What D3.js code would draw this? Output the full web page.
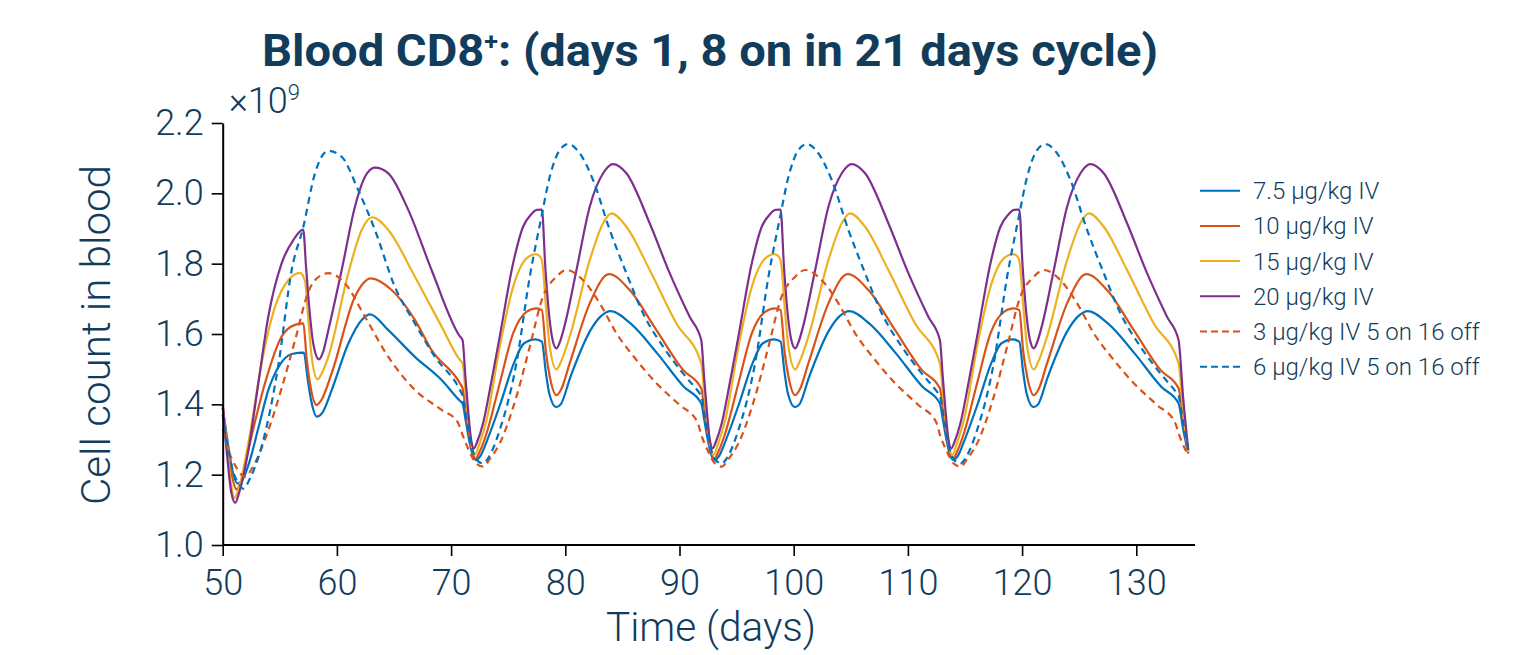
<!DOCTYPE html>
<html>
<head>
<meta charset="utf-8">
<script src="https://cdn.jsdelivr.net/npm/d3@7"></script>
<style>
  body { margin: 0; background: #fff; }
  svg text { font-family: Roboto, "Liberation Sans", sans-serif; fill: #123c5c; }
</style>
</head>
<body>
<div id="my_dataviz"></div>
<script>
// series names (legend order)
const seriesNames = ["7.5 μg/kg IV", "10 μg/kg IV", "15 μg/kg IV", "20 μg/kg IV",
  "3 μg/kg IV 5 on 16 off", "6 μg/kg IV 5 on 16 off"];

const xTicks = [50, 60, 70, 80, 90, 100, 110, 120, 130];
const yTicks = [1.0, 1.2, 1.4, 1.6, 1.8, 2.0, 2.2];

// [day, cell count x1e9]
const blue75 = [
  [50.0,1.39],[50.4,1.30],[50.8,1.22],[51.3,1.175],[51.8,1.19],[52.3,1.232],[53.15,1.336],[54.0,1.441],[54.9,1.507],[56.05,1.543],[57.1,1.547],[57.45,1.47],[57.75,1.41],[58.25,1.365],[58.7,1.375],[59.55,1.441],[61.0,1.573],[62.17,1.640],[62.9,1.656],[64.5,1.611],[66.83,1.535],[69.17,1.469],[70.77,1.410],
  [71.0,1.403],[71.3,1.35],[71.6,1.295],[71.9,1.255],[72.2,1.242],[72.6,1.255],[73.17,1.299],[74.33,1.403],[75.5,1.517],[76.37,1.573],[77.4,1.585],[77.95,1.578],[78.3,1.49],[78.6,1.43],[79.2,1.392],[79.6,1.40],[80.46,1.479],[82.21,1.611],[83.1,1.65],[83.96,1.665],[85.71,1.630],[88.05,1.545],[90.38,1.450],
  [91.9,1.403],[92.2,1.35],[92.5,1.295],[92.8,1.255],[93.1,1.242],[93.5,1.255],[94.07,1.299],[95.23,1.403],[96.4,1.517],[97.27,1.573],[98.3,1.585],[98.85,1.578],[99.2,1.49],[99.5,1.43],[100.1,1.392],[100.5,1.40],[101.36,1.479],[103.11,1.611],[104.0,1.65],[104.86,1.665],[106.61,1.630],[108.95,1.545],[111.28,1.450],
  [112.8,1.403],[113.1,1.35],[113.4,1.295],[113.7,1.255],[114.0,1.242],[114.4,1.255],[114.97,1.299],[116.13,1.403],[117.3,1.517],[118.17,1.573],[119.2,1.585],[119.75,1.578],[120.1,1.49],[120.4,1.43],[121.0,1.392],[121.4,1.40],[122.26,1.479],[124.01,1.611],[124.9,1.65],[125.76,1.665],[127.51,1.630],[129.85,1.545],[132.18,1.450],
  [133.7,1.403],[134.1,1.33],[134.55,1.26]
];

const orange10 = [
  [50.0,1.39],[50.4,1.29],[50.8,1.20],[51.22,1.158],[51.6,1.18],[52.24,1.27],[53.7,1.46],[55.16,1.593],[56.33,1.626],[57.06,1.630],[57.35,1.53],[57.64,1.46],[58.23,1.398],[58.6,1.41],[59.54,1.488],[61.58,1.706],[62.98,1.758],[64.79,1.725],[66.83,1.640],[68.29,1.554],[70.77,1.46],
  [71.0,1.446],[71.3,1.38],[71.6,1.31],[72.16,1.246],[72.5,1.265],[73.1,1.317],[74.26,1.460],[75.43,1.602],[76.6,1.663],[77.47,1.673],[77.95,1.668],[78.3,1.55],[78.64,1.479],[79.23,1.426],[79.6,1.44],[80.39,1.517],[82.14,1.687],[83.83,1.770],[85.64,1.725],[87.98,1.611],[90.31,1.498],
  [91.9,1.446],[92.2,1.38],[92.5,1.31],[93.06,1.246],[93.4,1.265],[94.0,1.317],[95.16,1.460],[96.33,1.602],[97.5,1.663],[98.37,1.673],[98.85,1.668],[99.2,1.55],[99.54,1.479],[100.13,1.426],[100.5,1.44],[101.29,1.517],[103.04,1.687],[104.73,1.770],[106.54,1.725],[108.88,1.611],[111.21,1.498],
  [112.8,1.446],[113.1,1.38],[113.4,1.31],[113.96,1.246],[114.3,1.265],[114.9,1.317],[116.06,1.460],[117.23,1.602],[118.4,1.663],[119.27,1.673],[119.75,1.668],[120.1,1.55],[120.44,1.479],[121.03,1.426],[121.4,1.44],[122.19,1.517],[123.94,1.687],[125.63,1.770],[127.44,1.725],[129.78,1.611],[132.11,1.498],
  [133.7,1.446],[134.1,1.36],[134.55,1.262]
];

const yellow15 = [
  [50.0,1.40],[50.4,1.27],[50.75,1.17],[51.02,1.133],[51.4,1.16],[52.24,1.289],[53.41,1.517],[54.58,1.677],[55.74,1.753],[56.77,1.774],[57.21,1.75],[57.5,1.64],[57.79,1.535],[58.31,1.471],[58.7,1.49],[59.25,1.535],[61.0,1.773],[62.17,1.896],[63.1,1.932],[64.5,1.896],[66.83,1.763],[69.17,1.621],[70.77,1.526],
  [71.0,1.517],[71.3,1.42],[71.6,1.33],[72.08,1.256],[72.5,1.29],[73.1,1.355],[74.26,1.564],[75.43,1.734],[76.6,1.815],[77.41,1.827],[77.8,1.82],[78.0,1.80],[78.3,1.68],[78.64,1.564],[79.23,1.499],[79.6,1.52],[80.39,1.593],[82.14,1.810],[83.31,1.915],[84.04,1.943],[85.35,1.905],[87.39,1.782],[89.73,1.630],
  [91.9,1.517],[92.2,1.42],[92.5,1.33],[92.98,1.256],[93.4,1.29],[94.0,1.355],[95.16,1.564],[96.33,1.734],[97.5,1.815],[98.31,1.827],[98.7,1.82],[98.9,1.80],[99.2,1.68],[99.54,1.564],[100.13,1.499],[100.5,1.52],[101.29,1.593],[103.04,1.810],[104.21,1.915],[104.94,1.943],[106.25,1.905],[108.29,1.782],[110.63,1.630],
  [112.8,1.517],[113.1,1.42],[113.4,1.33],[113.88,1.256],[114.3,1.29],[114.9,1.355],[116.06,1.564],[117.23,1.734],[118.4,1.815],[119.21,1.827],[119.6,1.82],[119.8,1.80],[120.1,1.68],[120.44,1.564],[121.03,1.499],[121.4,1.52],[122.19,1.593],[123.94,1.810],[125.11,1.915],[125.84,1.943],[127.15,1.905],[129.19,1.782],[131.53,1.630],
  [133.7,1.517],[134.1,1.38],[134.55,1.265]
];

const purple20 = [
  [50.0,1.40],[50.4,1.25],[50.75,1.15],[51.1,1.12],[51.45,1.15],[52.25,1.27],[53.12,1.46],[53.99,1.649],[55.16,1.801],[56.18,1.867],[57.05,1.897],[57.3,1.79],[57.5,1.706],[57.93,1.573],[58.43,1.528],[58.8,1.55],[59.25,1.611],[60.42,1.782],[61.58,1.962],[62.46,2.047],[63.33,2.073],[64.5,2.057],[66.25,1.953],[68.29,1.782],[70.77,1.593],
  [71.0,1.583],[71.25,1.48],[71.5,1.38],[71.75,1.30],[72.0,1.275],[72.3,1.295],[72.8,1.346],[73.5,1.46],[74.26,1.593],[75.43,1.801],[76.3,1.905],[77.0,1.94],[77.5,1.953],[77.95,1.954],[78.25,1.79],[78.6,1.649],[78.95,1.575],[79.23,1.559],[79.5,1.575],[79.95,1.625],[80.98,1.782],[82.14,1.962],[83.31,2.057],[84.18,2.083],[85.35,2.057],[87.39,1.915],[89.14,1.773],[90.89,1.649],
  [91.9,1.583],[92.15,1.48],[92.4,1.38],[92.65,1.30],[92.9,1.275],[93.2,1.295],[93.7,1.346],[94.4,1.46],[95.16,1.593],[96.33,1.801],[97.2,1.905],[97.9,1.94],[98.4,1.953],[98.85,1.954],[99.15,1.79],[99.5,1.649],[99.85,1.575],[100.13,1.559],[100.4,1.575],[100.85,1.625],[101.88,1.782],[103.04,1.962],[104.21,2.057],[105.08,2.083],[106.25,2.057],[108.29,1.915],[110.04,1.773],[111.79,1.649],
  [112.8,1.583],[113.05,1.48],[113.3,1.38],[113.55,1.30],[113.8,1.275],[114.1,1.295],[114.6,1.346],[115.3,1.46],[116.06,1.593],[117.23,1.801],[118.1,1.905],[118.8,1.94],[119.3,1.953],[119.75,1.954],[120.05,1.79],[120.4,1.649],[120.75,1.575],[121.03,1.559],[121.3,1.575],[121.75,1.625],[122.78,1.782],[123.94,1.962],[125.11,2.057],[125.98,2.083],[127.15,2.057],[129.19,1.915],[130.94,1.773],[132.69,1.649],
  [133.7,1.583],[134.1,1.42],[134.55,1.27]
];

const orange3Dash = [
  [50.0,1.33],[50.5,1.27],[51.2,1.22],[51.95,1.194],[52.6,1.22],[53.7,1.30],[55.2,1.45],[56.4,1.59],[57.5,1.72],[58.3,1.76],[59.25,1.773],[60.71,1.744],[62.46,1.649],[64.5,1.535],[66.83,1.441],[69.17,1.384],[70.55,1.351],
  [71.06,1.308],[71.55,1.27],[72.2,1.232],[72.81,1.223],[73.4,1.245],[74.26,1.289],[75.72,1.422],[76.89,1.564],[78.04,1.706],[79.23,1.763],[80.1,1.782],[81.56,1.753],[83.02,1.687],[84.48,1.602],[86.23,1.526],[87.98,1.460],[90.02,1.398],[91.55,1.351],
  [91.96,1.308],[92.45,1.27],[93.1,1.232],[93.71,1.223],[94.3,1.245],[95.16,1.289],[96.62,1.422],[97.79,1.564],[98.94,1.706],[100.13,1.763],[101.0,1.782],[102.46,1.753],[103.92,1.687],[105.38,1.602],[107.13,1.526],[108.88,1.460],[110.92,1.398],[112.45,1.351],
  [112.86,1.308],[113.35,1.27],[114.0,1.232],[114.61,1.223],[115.2,1.245],[116.06,1.289],[117.52,1.422],[118.69,1.564],[119.84,1.706],[121.03,1.763],[121.9,1.782],[123.36,1.753],[124.82,1.687],[126.28,1.602],[128.03,1.526],[129.78,1.460],[131.82,1.398],[133.35,1.351],
  [133.9,1.30],[134.55,1.255]
];

const blue6Dash = [
  [50.0,1.37],[50.5,1.27],[50.9,1.21],[51.4,1.175],[51.8,1.16],[52.4,1.19],[53.8,1.33],[54.9,1.517],[56.04,1.782],[57.06,1.905],[58.08,2.057],[59.25,2.121],[60.42,2.104],[61.87,2.009],[63.33,1.896],[65.08,1.734],[66.83,1.630],[68.58,1.535],[70.77,1.441],
  [71.0,1.425],[71.4,1.35],[71.8,1.28],[72.3,1.24],[72.81,1.232],[73.3,1.25],[74.26,1.327],[75.72,1.517],[76.89,1.763],[77.91,1.933],[78.64,2.047],[79.51,2.123],[80.24,2.140],[81.26,2.114],[82.43,2.038],[83.89,1.896],[85.35,1.773],[86.81,1.659],[88.56,1.564],[90.31,1.488],[91.77,1.431],
  [91.9,1.425],[92.3,1.35],[92.7,1.28],[93.2,1.24],[93.71,1.232],[94.2,1.25],[95.16,1.327],[96.62,1.517],[97.79,1.763],[98.81,1.933],[99.54,2.047],[100.41,2.123],[101.14,2.140],[102.16,2.114],[103.33,2.038],[104.79,1.896],[106.25,1.773],[107.71,1.659],[109.46,1.564],[111.21,1.488],[112.67,1.431],
  [112.8,1.425],[113.2,1.35],[113.6,1.28],[114.1,1.24],[114.61,1.232],[115.1,1.25],[116.06,1.327],[117.52,1.517],[118.69,1.763],[119.71,1.933],[120.44,2.047],[121.31,2.123],[122.04,2.140],[123.06,2.114],[124.23,2.038],[125.69,1.896],[127.15,1.773],[128.61,1.659],[130.36,1.564],[132.11,1.488],[133.57,1.431],
  [133.7,1.425],[134.1,1.35],[134.55,1.27]
];

const seriesData = [blue75, orange10, yellow15, purple20, orange3Dash, blue6Dash];
const seriesColors = ["#0072BD", "#D95319", "#EDB120", "#7E2F8E", "#D95319", "#0072BD"];
const seriesDashed = [false, false, false, false, true, true];

// layout
const W = 1527, H = 655;
const plot = {left: 222.7, right: 1193.4, top: 123, bottom: 545};

const svg = d3.select("#my_dataviz")
  .append("svg")
  .attr("width", W)
  .attr("height", H);

const x = d3.scaleLinear().domain([50, 135]).range([plot.left, plot.right]);
const y = d3.scaleLinear().domain([1.0, 2.2]).range([plot.bottom, plot.top]);

// lines
const line = d3.line()
  .x(d => x(d[0]))
  .y(d => y(d[1]))
  .curve(d3.curveMonotoneX);

seriesData.forEach(function(data, i) {
  svg.append("path")
    .datum(data)
    .attr("fill", "none")
    .attr("stroke", seriesColors[i])
    .attr("stroke-width", 2.2)
    .attr("stroke-dasharray", seriesDashed[i] ? "7,5" : null)
    .attr("d", line);
});

// axes
const xAxis = svg.append("g")
  .attr("transform", `translate(0, ${plot.bottom})`)
  .call(d3.axisBottom(x).tickValues(xTicks).tickSize(11).tickSizeOuter(0).tickPadding(13));
xAxis.select(".domain").attr("d", `M${plot.left},0H1195`);

const yAxis = svg.append("g")
  .attr("transform", `translate(${plot.left}, 0)`)
  .call(d3.axisLeft(y).tickValues(yTicks).tickSize(11).tickSizeOuter(0).tickPadding(8)
    .tickFormat(d3.format(".1f")));

svg.selectAll(".domain").attr("stroke", "#000").attr("stroke-width", 2);
svg.selectAll(".tick line").attr("stroke", "#000").attr("stroke-width", 1.6);
svg.selectAll(".tick text")
  .style("font-size", "36px")
  .style("font-weight", 300)
  .attr("fill", "#123c5c");

// exponent label
const expo = svg.append("text")
  .attr("x", 229)
  .attr("y", 113)
  .style("font-size", "36px")
  .style("font-weight", 300);
expo.append("tspan").text("×10");
expo.append("tspan").attr("dy", -13).style("font-size", "22px").text("9");

// title
const title = svg.append("text")
  .attr("x", 262)
  .attr("y", 66)
  .attr("textLength", 896)
  .attr("lengthAdjust", "spacingAndGlyphs")
  .style("font-size", "45px")
  .style("font-weight", 700);
title.append("tspan").text("Blood CD8");
title.append("tspan").attr("dy", -16).style("font-size", "24px").text("+");
title.append("tspan").attr("dy", 16).text(": (days 1, 8 on in 21 days cycle)");

// axis labels
svg.append("text")
  .attr("x", 606)
  .attr("y", 641)
  .attr("textLength", 210)
  .attr("lengthAdjust", "spacingAndGlyphs")
  .style("font-size", "40px")
  .style("font-weight", 300)
  .text("Time (days)");

svg.append("text")
  .attr("transform", "translate(110, 505) rotate(-90)")
  .attr("textLength", 340)
  .attr("lengthAdjust", "spacingAndGlyphs")
  .style("font-size", "40px")
  .style("font-weight", 300)
  .text("Cell count in blood");

// legend
const legend = svg.append("g").attr("transform", "translate(1200, 190.7)");
seriesNames.forEach(function(name, i) {
  const row = legend.append("g").attr("transform", `translate(0, ${i * 35.2})`);
  row.append("line")
    .attr("x1", 0).attr("x2", 40)
    .attr("y1", 0).attr("y2", 0)
    .attr("stroke", seriesColors[i])
    .attr("stroke-width", 2)
    .attr("stroke-dasharray", seriesDashed[i] ? "7,4" : null);
  row.append("text")
    .attr("x", 53)
    .attr("y", 8.5)
    .style("font-size", "24px")
    .style("font-weight", 300)
    .text(name);
});
</script>
</body>
</html>
